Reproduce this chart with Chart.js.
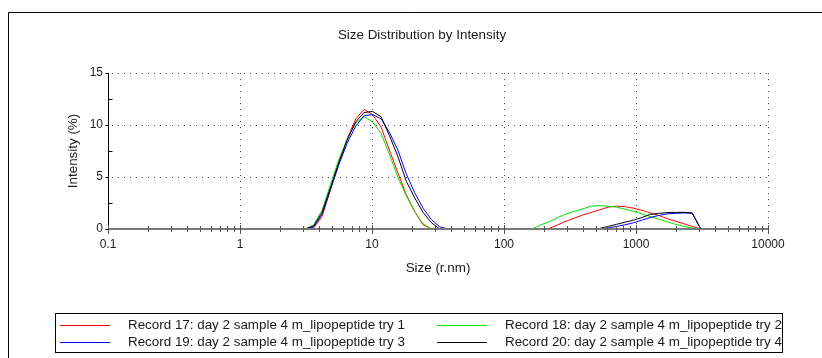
<!DOCTYPE html>
<html>
<head>
<meta charset="utf-8">
<title>Size Distribution by Intensity</title>
<script src="https://cdn.jsdelivr.net/npm/chart.js@4.4.1/dist/chart.umd.min.js"></script>
<style>
  html, body { margin: 0; padding: 0; background: #fff; }
  #wrap { width: 822px; height: 358px; }
</style>
</head>
<body>
<div id="wrap"><canvas id="sizeChart" width="822" height="358"></canvas></div>
<script>
// Size bins (r.nm) covering both populations
const sizes = [
  3.122, 3.615, 4.187, 4.849, 5.615, 6.503, 7.531, 8.721, 10.10,
  11.70, 13.54, 15.69, 18.17, 21.04, 24.36, 28.21, 32.67, 37.84,
  43.82, 50.75, 58.77, 68.06, 78.82, 91.28, 105.7, 122.4, 141.8,
  164.2, 190.1, 220.2, 255.0, 295.3, 342.0, 396.1, 458.7, 531.2,
  615.1, 712.4, 825.0, 955.4, 1106, 1281, 1484, 1718, 1990, 2305, 2669, 3091, 3580
];

// Intensity (%) per bin, one array per record
const record17 = [
  0, 0.1, 1.2, 3.8, 6.4, 8.7, 10.6, 11.5, 11.0,
  9.8, 7.6, 5.4, 3.3, 1.7, 0.4, 0, 0, 0,
  0, 0, 0, 0, 0, 0, 0, 0, 0,
  0, 0, 0.05, 0.4, 0.75, 1.05, 1.35, 1.6, 1.85,
  2.1, 2.2, 2.15, 2.0, 1.8, 1.55, 1.3, 1.0, 0.75, 0.5, 0.25, 0, 0
];
const record18 = [
  0, 0.4, 1.8, 4.3, 6.7, 8.7, 10.2, 10.8, 10.3,
  9.2, 7.2, 5.0, 3.2, 1.7, 0.5, 0, 0, 0,
  0, 0, 0, 0, 0, 0, 0, 0, 0,
  0, 0.4, 0.7, 1.1, 1.45, 1.7, 1.95, 2.2, 2.25,
  2.2, 2.1, 1.9, 1.7, 1.45, 1.2, 0.95, 0.7, 0.45, 0.25, 0.1, 0, 0
];
const record19 = [
  0, 0.2, 1.4, 3.8, 6.2, 8.3, 9.9, 10.9, 11.0,
  10.6, 9.3, 7.6, 5.3, 3.5, 2.0, 0.9, 0.2, 0,
  0, 0, 0, 0, 0, 0, 0, 0, 0,
  0, 0, 0, 0, 0, 0, 0, 0, 0,
  0.1, 0.25, 0.4, 0.6, 0.85, 1.1, 1.3, 1.45, 1.5, 1.55, 1.5, 0, 0
];
const record20 = [
  0, 0.3, 1.6, 4.0, 6.4, 8.6, 10.3, 11.2, 11.3,
  10.8, 9.0, 7.0, 4.6, 3.0, 1.6, 0.6, 0, 0,
  0, 0, 0, 0, 0, 0, 0, 0, 0,
  0, 0, 0, 0, 0, 0, 0, 0, 0.05,
  0.25, 0.45, 0.65, 0.85, 1.1, 1.4, 1.5, 1.58, 1.6, 1.6, 1.55, 0, 0
];

const seriesLabels = [
  'Record 17: day 2 sample 4 m_lipopeptide try 1',
  'Record 18: day 2 sample 4 m_lipopeptide try 2',
  'Record 19: day 2 sample 4 m_lipopeptide try 3',
  'Record 20: day 2 sample 4 m_lipopeptide try 4'
];
const seriesValues = [record17, record18, record19, record20];
const seriesColors = ['#ff0000', '#00e600', '#0000ff', '#000000'];

const xTicks = [0.1, 1, 10, 100, 1000, 10000];
const yTicks = [0, 5, 10, 15];

const FONT = 'Arial, "Liberation Sans", sans-serif';
const TEXT = '#1a1a1a';
const LABEL_SIZE = 13.4;

function strokeLine(ctx, x1, y1, x2, y2) {
  ctx.beginPath();
  ctx.moveTo(x1, y1);
  ctx.lineTo(x2, y2);
  ctx.stroke();
}

// Page frame, title and legend box (drawn outside the plot area)
const framePlugin = {
  id: 'frame',
  beforeDraw(chart) {
    const { ctx, width, height } = chart;
    ctx.save();
    ctx.fillStyle = '#fff';
    ctx.fillRect(0, 0, width, height);
    ctx.strokeStyle = '#000';
    ctx.lineWidth = 1;
    strokeLine(ctx, 8.5, 12.5, width, 12.5);
    strokeLine(ctx, 8.5, 12.5, 8.5, height);
    ctx.fillStyle = TEXT;
    ctx.font = LABEL_SIZE + 'px ' + FONT;
    ctx.textAlign = 'center';
    ctx.textBaseline = 'middle';
    ctx.fillText('Size Distribution by Intensity', 422, 35);
    ctx.restore();
  },
  afterDraw(chart) {
    const { ctx } = chart;
    ctx.save();
    ctx.strokeStyle = '#000';
    ctx.lineWidth = 1;
    ctx.strokeRect(55.5, 313.5, 727, 39);
    ctx.font = LABEL_SIZE + 'px ' + FONT;
    ctx.textAlign = 'left';
    ctx.textBaseline = 'middle';
    chart.data.datasets.forEach((ds, i) => {
      const col = i % 2;
      const row = Math.floor(i / 2);
      const lx = col === 0 ? 60 : 437;
      const ly = row === 0 ? 325.5 : 342.5;
      ctx.strokeStyle = ds.borderColor;
      strokeLine(ctx, lx, ly, lx + 50, ly);
      ctx.fillStyle = TEXT;
      ctx.fillText(ds.label, lx + 68, ly);
    });
    ctx.restore();
  }
};

// Dotted grid, axis lines and tick marks
const axisPlugin = {
  id: 'axes',
  beforeDatasetsDraw(chart) {
    const { ctx, chartArea: a, scales: { x, y } } = chart;
    ctx.save();
    ctx.strokeStyle = '#444';
    ctx.lineWidth = 1;
    ctx.setLineDash([1, 5]);
    yTicks.slice(1).forEach((v) => {
      const py = Math.round(y.getPixelForValue(v)) + 0.5;
      strokeLine(ctx, a.left + 4, py, a.right, py);
    });
    xTicks.slice(1).forEach((v) => {
      const px = Math.round(x.getPixelForValue(v)) + 0.5;
      strokeLine(ctx, px, a.top, px, a.bottom - 2);
    });
    ctx.setLineDash([]);

    // y axis
    ctx.strokeStyle = '#000';
    const ax = Math.round(a.left) + 0.5;
    strokeLine(ctx, ax, a.top, ax, a.bottom);
    yTicks.forEach((v, i) => {
      const py = Math.round(y.getPixelForValue(v)) + 0.5;
      strokeLine(ctx, ax - 3, py, ax, py);
      if (i < yTicks.length - 1) {
        const mid = (v + yTicks[i + 1]) / 2;
        const my = Math.round(y.getPixelForValue(mid)) + 0.5;
        strokeLine(ctx, ax, my, ax + 4, my);
      }
    });
    ctx.restore();
  },
  afterDatasetsDraw(chart) {
    const { ctx, chartArea: a, scales: { x } } = chart;
    ctx.save();
    ctx.strokeStyle = '#7a7a7a';
    ctx.lineWidth = 2;
    const by = Math.round(a.bottom);
    strokeLine(ctx, a.left, by, a.right, by);
    ctx.lineWidth = 1;
    ctx.strokeStyle = '#555';
    xTicks.forEach((v, i) => {
      const px = Math.round(x.getPixelForValue(v)) + 0.5;
      strokeLine(ctx, px, by - 4, px, by + 5);
      if (i < xTicks.length - 1) {
        for (let m = 2; m <= 9; m++) {
          const mx = Math.round(x.getPixelForValue(v * m)) + 0.5;
          strokeLine(ctx, mx, by - 3, mx, by + 3);
        }
      }
    });
    ctx.restore();
  }
};

const datasets = seriesValues.map((vals, i) => ({
  label: seriesLabels[i],
  data: sizes.map((s, k) => ({ x: s, y: vals[k] })),
  borderColor: seriesColors[i],
  borderWidth: 1,
  pointRadius: 0,
  tension: 0,
  fill: false,
  order: 4 - i
}));

new Chart(document.getElementById('sizeChart'), {
  type: 'line',
  data: { datasets },
  options: {
    responsive: false,
    animation: false,
    devicePixelRatio: 1,
    layout: { padding: { left: 0, right: 54, top: 73, bottom: 79 } },
    plugins: {
      legend: { display: false },
      tooltip: { enabled: false },
      title: { display: false }
    },
    scales: {
      x: {
        type: 'logarithmic',
        min: 0.1,
        max: 10000,
        afterBuildTicks: (scale) => {
          scale.ticks = xTicks.map((v) => ({ value: v }));
        },
        afterFit: (scale) => { scale.height = 50; },
        grid: { display: false, drawTicks: true, tickLength: 4 },
        border: { display: false },
        ticks: {
          autoSkip: false,
          maxRotation: 0,
          padding: 4,
          color: TEXT,
          font: { family: FONT, size: 12 },
          callback: (v) => String(v)
        },
        title: {
          display: true,
          text: 'Size (r.nm)',
          color: TEXT,
          font: { family: FONT, size: LABEL_SIZE },
          padding: { top: 0, bottom: 3 }
        }
      },
      y: {
        min: 0,
        max: 15,
        afterBuildTicks: (scale) => {
          scale.ticks = yTicks.map((v) => ({ value: v }));
        },
        afterFit: (scale) => { scale.width = 108; },
        grid: { display: false, drawTicks: true, tickLength: 4 },
        border: { display: false },
        ticks: {
          padding: 1,
          color: TEXT,
          font: { family: FONT, size: 12 }
        },
        title: {
          display: true,
          text: 'Intensity (%)',
          color: TEXT,
          font: { family: FONT, size: LABEL_SIZE },
          padding: { top: 65, bottom: 0 }
        }
      }
    }
  },
  plugins: [framePlugin, axisPlugin]
});
</script>
</body>
</html>
